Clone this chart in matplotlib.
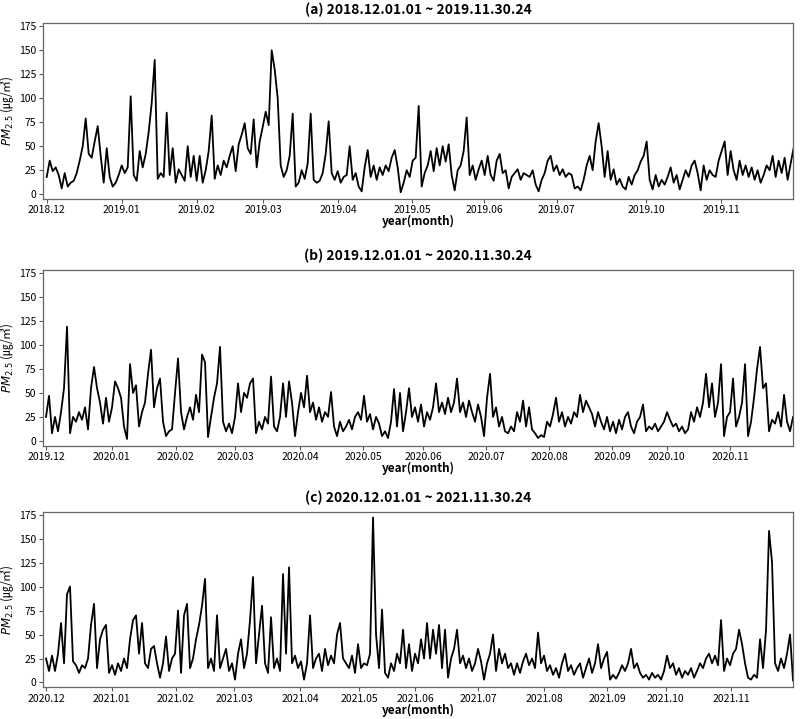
import matplotlib
matplotlib.use("Agg")
import matplotlib.pyplot as plt
import numpy as np

plt.rcParams['font.family'] = ['Noto Sans CJK KR', 'DejaVu Sans']

# PM2.5 values, one per ~3 px column of each panel
pm_a = [18, 35, 24, 28, 20, 6, 22, 8, 12, 14,
        22, 35, 50, 79, 42, 38, 55, 71, 40, 12,
        48, 18, 8, 12, 20, 30, 22, 28, 102, 20,
        14, 45, 28, 42, 65, 95, 140, 16, 22, 18,
        85, 20, 48, 12, 26, 20, 14, 50, 18, 40,
        14, 40, 12, 25, 45, 82, 16, 30, 20, 35,
        28, 40, 50, 24, 52, 62, 74, 48, 42, 78,
        28, 55, 70, 86, 72, 150, 130, 100, 30, 18,
        25, 40, 84, 8, 12, 25, 16, 32, 84, 15,
        12, 14, 22, 42, 76, 22, 15, 24, 12, 18,
        20, 50, 15, 22, 8, 3, 28, 46, 18, 30,
        15, 28, 20, 30, 24, 38, 46, 28,
        2, 12, 25, 18, 35, 38, 92, 8, 22, 30,
        45, 24, 48, 30, 50, 34, 52, 20, 4, 25,
        30, 45, 80, 20, 30, 15, 26, 35, 20, 40,
        20, 14, 35, 42, 22, 25, 6, 18, 22, 26,
        15, 22, 20, 18, 25, 10, 3, 15, 22, 35,
        40, 24, 30, 20, 26, 18, 22, 20, 6, 8,
        4, 15, 30, 40, 25, 55, 74, 50, 18, 45,
        15, 26, 10, 16, 8, 5, 18, 10, 20, 25,
        34, 40, 55, 15, 5, 20, 8, 15, 10, 18,
        28, 12, 20, 5, 15, 25, 18, 30, 35, 22,
        4, 30, 15, 25, 20, 18, 35, 45, 55, 20,
        45, 25, 15, 35, 20, 30, 18, 28, 15, 25,
        12, 20, 30, 25, 40, 18, 35, 22, 38, 15, 32, 48]

pm_b = [25, 47, 8, 25, 10, 30, 55, 119, 8, 25,
        20, 30, 22, 35, 12, 55, 77, 55, 40, 18,
        45, 20, 35, 62, 55, 45, 15, 2, 80, 50,
        58, 15, 30, 40, 70, 95, 35, 55, 65, 20,
        5, 10, 12, 50, 86, 30, 12, 25, 35, 22,
        48, 30, 90, 82, 4, 25, 45, 60, 98, 20,
        10, 18, 8, 25, 60, 30, 50, 45, 60, 65,
        8, 20, 12, 25, 18, 67, 15, 10, 25, 60,
        25, 62, 40, 5, 30, 50, 35, 68, 30, 40,
        22, 35, 20, 30, 25, 51, 15, 5, 20, 10,
        15, 22, 12, 25, 30, 22, 47, 20, 28, 12,
        25, 18, 5, 10, 3, 20, 54, 15,
        50, 10, 30, 55, 25, 35, 20, 38, 15, 30,
        22, 35, 60, 30, 40, 28, 45, 30, 40, 65,
        30, 40, 25, 42, 30, 20, 38, 25, 5, 45,
        70, 25, 35, 15, 25, 10, 8, 15, 10, 30,
        20, 42, 15, 35, 12, 8, 3, 6, 4, 20,
        15, 28, 45, 20, 30, 15, 25, 18, 30, 25,
        48, 30, 42, 35, 28, 15, 30, 20, 12, 25,
        10, 20, 8, 22, 12, 25, 30, 15, 8, 20,
        25, 38, 10, 15, 12, 18, 10, 15, 20, 30,
        22, 15, 18, 10, 15, 8, 12, 30, 20, 35,
        25, 40, 70, 35, 60, 25, 40, 80, 5, 25,
        30, 65, 15, 25, 40, 80, 5, 20, 45, 75,
        98, 55, 60, 10, 22, 18, 30, 15, 48, 20, 10, 25]

pm_c = [25, 12, 28, 12, 30, 62, 20, 92, 100, 22,
        18, 10, 18, 15, 25, 60, 82, 15, 45, 55,
        60, 10, 18, 8, 20, 12, 25, 15, 45, 65,
        70, 30, 62, 20, 15, 35, 38, 20, 5, 20,
        48, 12, 25, 30, 75, 10, 70, 82, 15, 25,
        45, 60, 80, 108, 15, 25, 12, 70, 15, 25,
        35, 12, 20, 3, 30, 45, 15, 30, 65, 110,
        20, 50, 80, 20, 10, 68, 15, 25, 12, 113,
        30, 120, 20, 28, 15, 22, 3, 20, 70, 15,
        25, 30, 12, 35, 18, 28, 20, 50, 62, 25,
        20, 15, 28, 10, 40, 15, 20, 18, 30, 172,
        50, 15, 76, 10, 5, 20, 12, 30,
        20, 55, 15, 40, 12, 30, 20, 45, 25, 62,
        25, 55, 30, 60, 15, 55, 5, 25, 35, 55,
        20, 28, 15, 25, 12, 20, 35, 22, 3, 20,
        30, 50, 12, 35, 20, 30, 15, 20, 8, 20,
        10, 22, 30, 18, 25, 15, 52, 20, 28, 12,
        18, 8, 15, 5, 20, 30, 12, 18, 8, 15,
        20, 5, 15, 25, 10, 20, 40, 15, 25, 32,
        3, 8, 4, 10, 18, 12, 20, 35, 15, 20,
        10, 5, 8, 3, 10, 5, 8, 3, 12, 28,
        15, 20, 8, 15, 5, 12, 8, 15, 5, 12,
        20, 15, 25, 30, 20, 28, 18, 65, 12, 25,
        18, 30, 35, 55, 40, 20, 5, 3, 8, 5,
        45, 15, 55, 158, 125, 20, 12, 25, 15, 30, 50, 2]

labels_a = ['2018.12', '2019.01', '2019.02', '2019.03', '2019.04', '2019.05',
            '2019.06', '2019.07', '2019.10', '2019.11']
labels_b = ['2019.12', '2020.01', '2020.02', '2020.03', '2020.04', '2020.05',
            '2020.06', '2020.07', '2020.08', '2020.09', '2020.10', '2020.11']
labels_c = ['2020.12', '2021.01', '2021.02', '2021.03', '2021.04', '2021.05',
            '2021.06', '2021.07', '2021.08', '2021.09', '2021.10', '2021.11']

# where each month label sits along the sample index
ticks_a = [0, 25, 50, 72.2, 97.2, 121.8, 145.8, 170, 199.8, 224.8]
ticks_b = [0, 21.9, 43.2, 63, 84.7, 105.8, 125.8, 146.7, 167.7, 188.7, 206.9, 228]
ticks_c = [0, 21.9, 43.2, 62.8, 84.7, 104.4, 123, 144.1, 166.1, 187.1, 206.6, 228.3]

titles = ['(a) 2018.12.01.01 ~ 2019.11.30.24',
          '(b) 2019.12.01.01 ~ 2020.11.30.24',
          '(c) 2020.12.01.01 ~ 2021.11.30.24']

panels = [(pm_a, ticks_a, labels_a, (-1.33, 248.8), 0.7232),
          (pm_b, ticks_b, labels_b, (-1.1, 249), 0.3801),
          (pm_c, ticks_c, labels_c, (-1.1, 249), 0.0441)]

fig = plt.figure(figsize=(8, 7.19), dpi=100)

for (vals, tk, lb, xl, bottom), title in zip(panels, titles):
    ax = fig.add_axes([0.0534, bottom, 0.9379, 0.2442])
    ax.plot(np.arange(len(vals)), vals, color='black', linewidth=1.3)
    ax.set_xlim(*xl)
    ax.set_ylim(-5, 178)
    ax.set_yticks([0, 25, 50, 75, 100, 125, 150, 175])
    ax.set_xticks(tk)
    ax.set_xticklabels(lb)
    ax.tick_params(labelsize=7.5, length=3, width=0.8, color='0.35', pad=1.5)
    for s in ax.spines.values():
        s.set_color('0.4')
        s.set_linewidth(0.9)
    ax.set_title(title, fontsize=10, fontweight='bold', pad=7)
    ax.set_xlabel('year(month)', fontsize=8.5, fontweight='bold', labelpad=0)
    ax.set_ylabel('$PM_{2.5}$ (㎍/㎥)', fontsize=8.5, labelpad=2)

fig.savefig('out.png', dpi=100)
